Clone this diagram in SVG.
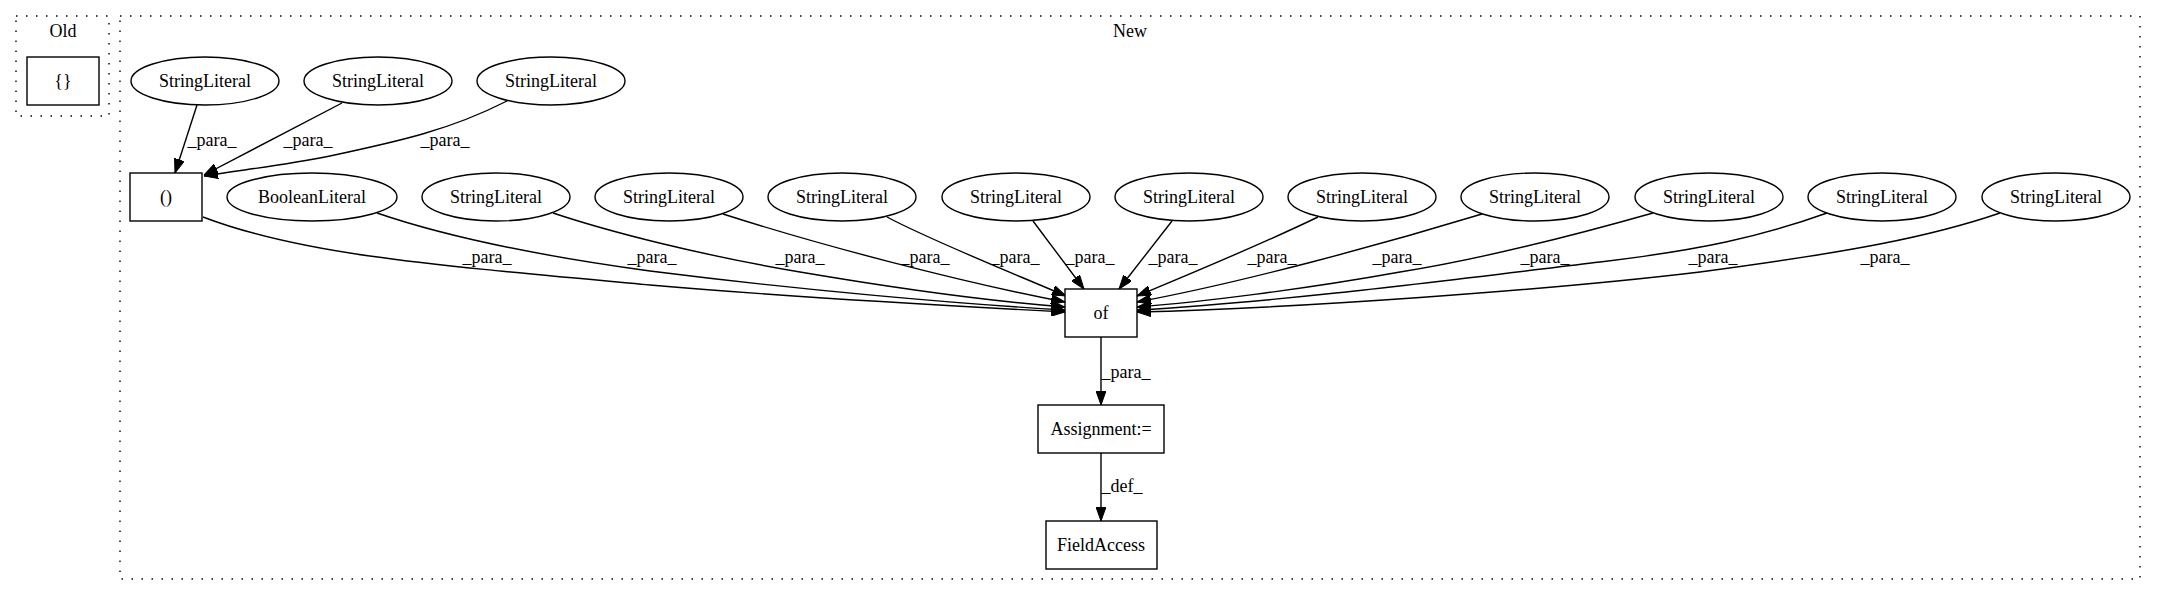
<svg xmlns="http://www.w3.org/2000/svg" width="2157" height="596" viewBox="0 0 2157 596">
<style>
text{font-family:"Liberation Serif","Times New Roman",serif;font-size:18px;fill:#000}
.n{text-anchor:middle}
.cl{fill:none;stroke:#000;stroke-width:1.4;stroke-dasharray:1.5,8.5}
.sh{fill:#fff;stroke:#000;stroke-width:1.4}
.e{fill:none;stroke:#000;stroke-width:1.4;marker-end:url(#arr)}
</style>
<defs>
<marker id="arr" viewBox="0 0 14 10" refX="14" refY="5" markerWidth="14" markerHeight="10" markerUnits="userSpaceOnUse" orient="auto">
<path d="M0,0 L14,5 L0,10 z" fill="#000" stroke="#000" stroke-width="1"/>
</marker>
</defs>
<rect width="2157" height="596" fill="#fff"/>
<g id="cluster_old">
<rect class="cl" x="16" y="16" width="93" height="100"/>
<text class="n" x="63" y="37">Old</text>
</g>
<g id="cluster_new">
<rect class="cl" x="120" y="16" width="2020" height="563"/>
<text class="n" x="1130" y="37">New</text>
</g>
<g id="edges">
<path class="e" d="M197,105 L175,173"/>
<text class="n" x="212" y="146">_para_</text>
<path class="e" d="M342,103 L204,175"/>
<text class="n" x="308" y="146">_para_</text>
<path class="e" d="M507,101 C450,130 400,141 330,156 C280,166 240,170 204,176"/>
<text class="n" x="445" y="146">_para_</text>
<path class="e" d="M203,217 C300,254 420,264 650,285 C800,298 950,306 1065,312"/>
<text class="n" x="487" y="263">_para_</text>
<path class="e" d="M377,213 C450,238 540,256 650,271 C800,290 960,304 1065,310"/>
<text class="n" x="652" y="263">_para_</text>
<path class="e" d="M553,213 C610,232 700,255 800,272 C900,289 1000,302 1065,307"/>
<text class="n" x="800" y="263">_para_</text>
<path class="e" d="M723,214 C820,245 960,282 1065,302"/>
<text class="n" x="925" y="263">_para_</text>
<path class="e" d="M887,217 C930,240 1010,272 1066,296"/>
<text class="n" x="1015" y="263">_para_</text>
<path class="e" d="M1033,221 L1084,289"/>
<text class="n" x="1090" y="263">_para_</text>
<path class="e" d="M1172,221 L1119,289"/>
<text class="n" x="1173" y="263">_para_</text>
<path class="e" d="M1318,217 C1260,245 1190,274 1137,296"/>
<text class="n" x="1272" y="263">_para_</text>
<path class="e" d="M1482,214 C1380,245 1240,283 1137,302"/>
<text class="n" x="1397" y="263">_para_</text>
<path class="e" d="M1653,213 C1600,228 1500,256 1400,272 C1300,290 1200,302 1137,307"/>
<text class="n" x="1545" y="263">_para_</text>
<path class="e" d="M1827,213 C1760,237 1700,250 1600,262 C1450,280 1280,302 1137,310"/>
<text class="n" x="1713" y="263">_para_</text>
<path class="e" d="M2000,213 C1930,237 1850,252 1700,272 C1550,290 1300,308 1137,312"/>
<text class="n" x="1885" y="263">_para_</text>
<path class="e" d="M1101,337 L1101,405"/>
<text class="n" x="1126" y="378">_para_</text>
<path class="e" d="M1101,453 L1101,521"/>
<text class="n" x="1122" y="492">_def_</text>
</g>
<g id="node_old_braces"><rect class="sh" x="27" y="57" width="72" height="48"/><text class="n" x="63" y="87">{}</text></g>
<g id="node_sl_t1"><ellipse class="sh" cx="205" cy="81" rx="74" ry="24"/><text class="n" x="205" y="87">StringLiteral</text></g>
<g id="node_sl_t2"><ellipse class="sh" cx="378" cy="81" rx="74" ry="24"/><text class="n" x="378" y="87">StringLiteral</text></g>
<g id="node_sl_t3"><ellipse class="sh" cx="551" cy="81" rx="74" ry="24"/><text class="n" x="551" y="87">StringLiteral</text></g>
<g id="node_paren"><rect class="sh" x="130" y="173" width="72" height="48"/><text class="n" x="166" y="203">()</text></g>
<g id="node_bool"><ellipse class="sh" cx="312" cy="197" rx="85" ry="24"/><text class="n" x="312" y="203">BooleanLiteral</text></g>
<g id="node_sl1"><ellipse class="sh" cx="496" cy="197" rx="74" ry="24"/><text class="n" x="496" y="203">StringLiteral</text></g>
<g id="node_sl2"><ellipse class="sh" cx="669" cy="197" rx="74" ry="24"/><text class="n" x="669" y="203">StringLiteral</text></g>
<g id="node_sl3"><ellipse class="sh" cx="842" cy="197" rx="74" ry="24"/><text class="n" x="842" y="203">StringLiteral</text></g>
<g id="node_sl4"><ellipse class="sh" cx="1016" cy="197" rx="74" ry="24"/><text class="n" x="1016" y="203">StringLiteral</text></g>
<g id="node_sl5"><ellipse class="sh" cx="1189" cy="197" rx="74" ry="24"/><text class="n" x="1189" y="203">StringLiteral</text></g>
<g id="node_sl6"><ellipse class="sh" cx="1362" cy="197" rx="74" ry="24"/><text class="n" x="1362" y="203">StringLiteral</text></g>
<g id="node_sl7"><ellipse class="sh" cx="1535" cy="197" rx="74" ry="24"/><text class="n" x="1535" y="203">StringLiteral</text></g>
<g id="node_sl8"><ellipse class="sh" cx="1709" cy="197" rx="74" ry="24"/><text class="n" x="1709" y="203">StringLiteral</text></g>
<g id="node_sl9"><ellipse class="sh" cx="1882" cy="197" rx="74" ry="24"/><text class="n" x="1882" y="203">StringLiteral</text></g>
<g id="node_sl10"><ellipse class="sh" cx="2056" cy="197" rx="74" ry="24"/><text class="n" x="2056" y="203">StringLiteral</text></g>
<g id="node_of"><rect class="sh" x="1065" y="289" width="72" height="48"/><text class="n" x="1101" y="319">of</text></g>
<g id="node_assign"><rect class="sh" x="1038" y="405" width="126" height="48"/><text class="n" x="1101" y="435">Assignment:=</text></g>
<g id="node_field"><rect class="sh" x="1046" y="521" width="111" height="48"/><text class="n" x="1101" y="551">FieldAccess</text></g>
</svg>
